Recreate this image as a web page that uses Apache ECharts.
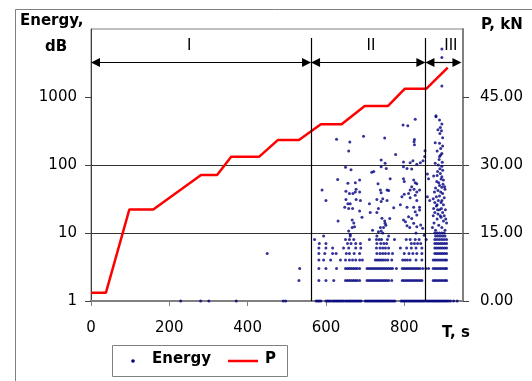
<!DOCTYPE html>
<html>
<head>
<meta charset="utf-8">
<script src="https://cdn.jsdelivr.net/npm/echarts@6/dist/echarts.min.js"></script>
<style>
  html, body { margin: 0; padding: 0; background: #fff; }
  #chart { width: 532px; height: 381px; }
</style>
</head>
<body>
<div id="chart"></div>
<script>
// axis ticks
const timeTicks = [0, 200, 400, 600, 800];
const energyTicks = [1, 10, 100, 1000];
const loadTicks = [0, 15, 30, 45];

// loading curve P (kN) vs time (s)
const pTime = [0, 38, 98, 159, 281, 322, 358, 429, 477, 531, 587, 640, 699, 758, 801, 856, 911];
const pLoad = [1.8, 1.8, 20.2, 20.2, 27.8, 27.8, 31.8, 31.8, 35.5, 35.5, 39, 39, 43, 43, 46.8, 46.8, 51.5];

// stages
const stageBounds = [0, 562, 854, 946];
const stageNames = ['I', 'II', 'III'];
const stageLabelT = [251, 715, 919];

// acoustic emission hits: time stamps per integer energy level
const energyRow1 = [229, 280, 301, 371, 491, 497, 575, 579, 583, 587, 600, 604, 608, 612, 617, 621, 625, 629, 633, 637,
  641, 645, 650, 654, 658, 662, 666, 670, 674, 678, 682, 686, 690, 700, 704, 708, 712, 716, 720, 724, 728, 732, 736,
  740, 744, 748, 752, 756, 760, 764, 768, 772, 776, 792, 796, 800, 804, 808, 812, 816, 820, 824, 828, 832, 836, 840,
  844, 848, 852, 857, 861, 865, 869, 873, 877, 881, 885, 889, 893, 897, 901, 905, 909, 913, 918, 926, 935];
const energyRow2 = [531, 582, 600, 620, 650, 655, 660, 665, 670, 675, 680, 686, 705, 710, 715, 720, 725, 730, 735, 740,
  745, 750, 755, 760, 768, 795, 800, 805, 810, 815, 820, 825, 830, 835, 840, 845, 874, 879, 884, 889, 894, 899, 904, 908];
const energyRow3 = [533, 582, 600, 627, 650, 655, 660, 665, 670, 675, 680, 686, 705, 710, 715, 720, 725, 730, 735, 740,
  745, 750, 755, 760, 765, 770, 780, 795, 800, 805, 810, 815, 820, 825, 830, 835, 840, 847, 855, 862, 874, 879, 884,
  889, 894, 899, 904, 908];
const energyRow4 = [582, 594, 612, 637, 650, 660, 668, 676, 686, 693, 726, 731, 736, 741, 746, 752, 758, 768, 796, 802,
  808, 815, 830, 845, 874, 879, 884, 889, 894, 899, 904, 908];
const energyRow5 = [450, 582, 597, 617, 626, 652, 660, 672, 686, 730, 738, 745, 752, 760, 770, 800, 812, 822, 832, 845,
  878, 883, 888, 893, 898, 903, 908];
const energyRow6 = [582, 600, 617, 645, 658, 676, 689, 729, 738, 745, 752, 760, 790, 806, 818, 830, 845, 878, 883, 888,
  893, 898, 903, 908];
const energyRow7 = [583, 600, 655, 664, 676, 688, 730, 740, 748, 755, 818, 826, 834, 842, 878, 883, 888, 893, 898, 903, 908];
const energyRow8 = [571, 650, 660, 671, 711, 729, 736, 742, 757, 775, 805, 815, 828, 838, 856, 878, 884, 890, 896, 902, 908];
const energyRow9 = [594, 662, 730, 760, 880, 886, 892, 898, 904];
const energyRow10 = [745, 830, 878, 884, 890, 896, 902];

// higher-energy hits [time, energy]
const energyScatter = [
  [627, 239], [661, 218], [658, 161], [696, 264], [750, 250], [650, 93], [664, 85], [741, 118], [751, 106], [722, 80],
  [717, 78], [741, 94], [630, 61], [686, 60], [675, 55], [656, 54], [590, 43], [651, 41], [677, 44], [675, 40],
  [660, 38], [669, 38], [686, 40], [733, 53], [739, 43], [741, 39], [600, 30], [651, 31], [656, 27], [662, 27],
  [677, 31], [688, 30], [711, 27], [730, 31], [741, 29], [745, 32], [756, 30], [648, 24], [658, 23], [668, 23],
  [828, 470], [797, 386], [809, 378], [881, 512], [890, 458], [896, 400], [892, 355], [898, 252], [890, 208], [879, 212],
  [826, 238], [825, 220], [826, 199], [778, 143], [893, 175], [896, 148], [890, 133], [853, 162], [852, 133], [848, 115],
  [841, 108], [879, 106], [887, 100], [896, 96], [898, 84], [798, 111], [815, 108], [822, 115], [832, 103], [798, 94],
  [807, 89], [819, 87], [754, 89], [764, 63], [798, 63], [800, 57], [824, 60], [828, 55], [832, 53], [819, 48],
  [815, 43], [811, 38], [825, 44], [832, 40], [839, 43], [859, 74], [862, 63], [875, 69], [885, 80], [892, 75],
  [896, 67], [900, 60], [883, 57], [890, 50], [896, 47], [893, 40], [904, 44], [756, 43], [760, 42], [794, 34],
  [800, 37], [815, 33], [828, 36], [832, 30], [859, 34], [865, 30], [882, 34], [887, 30], [896, 30], [900, 26],
  [790, 26], [807, 24], [824, 24], [839, 24], [875, 23], [885, 22], [895, 23], [905, 22],
  [686, 21], [713, 20], [730, 20], [734, 23], [631, 15], [667, 15.5], [671, 14], [692, 17], [743, 16.5], [750, 15],
  [753, 13], [747, 12], [739, 12], [719, 11], [734, 10.4], [741, 10.7], [658, 10.7], [667, 12], [673, 12.4], [662, 9.5],
  [763, 16.4], [751, 13.9], [773, 23.5], [798, 15.5], [803, 14.6], [811, 17.4], [819, 16.4], [828, 20.5], [832, 18.4],
  [839, 21.8], [824, 13.9], [814, 12], [832, 12.4], [842, 13.1], [847, 11.7], [807, 12.8], [851, 9.3],
  [872, 12], [876, 14], [880, 11], [884, 16], [888, 13], [892, 18], [896, 12], [900, 15], [904, 11], [908, 14],
  [874, 18], [878, 20], [882, 25], [886, 19], [890, 22], [894, 17], [898, 20], [902, 18], [906, 16], [878, 28],
  [884, 26], [890, 35], [894, 28], [898, 38], [902, 33], [886, 42], [880, 46], [888, 55], [894, 62], [899, 52],
  [877, 40], [874, 32], [903, 48], [891, 88], [884, 70], [897, 110], [889, 120], [893, 140], [884, 160], [898, 190],
  [891, 290], [895, 320], [886, 330], [896, 5100], [896, 3800], [896, 1450], [881, 530]
];

const energyRows = [energyRow1, energyRow2, energyRow3, energyRow4, energyRow5,
  energyRow6, energyRow7, energyRow8, energyRow9, energyRow10];
const energyData = energyRows
  .flatMap((row, i) => row.map((t) => [t, i + 1]))
  .concat(energyScatter);
const loadData = pTime.map((t, i) => [t, pLoad[i]]);

const FONT = 'DejaVu Sans';
const NAVY = '#000080';
const arrowY = 3215;
const stageTop = 58;
// arrow heads are centred on the line end, pull them in so the tip touches the bound
const arrowInset = 11.5;

const chart = echarts.init(document.getElementById('chart'), null, { renderer: 'canvas' });

chart.setOption({
  animation: false,
  backgroundColor: '#fff',
  textStyle: { fontFamily: FONT },
  grid: {
    left: 91, right: 69, top: 29, bottom: 80,
    show: true, borderColor: '#808080', borderWidth: 1, backgroundColor: 'transparent'
  },
  xAxis: {
    type: 'value', min: 0, max: 950, interval: 200,
    axisLine: { show: true, onZero: false, lineStyle: { color: '#808080', width: 2 } },
    axisTick: { show: true, length: 5, customValues: timeTicks, lineStyle: { color: '#808080' } },
    axisLabel: { customValues: timeTicks, color: '#000', fontSize: 15, fontFamily: FONT, margin: 20 },
    splitLine: { show: false }
  },
  yAxis: [
    {
      type: 'log', logBase: 10, min: 1, max: 10000,
      axisLine: { show: true, lineStyle: { color: '#404040', width: 1 } },
      axisTick: { show: true, length: 6, customValues: energyTicks, lineStyle: { color: '#404040' } },
      axisLabel: {
        customValues: energyTicks, color: '#000', fontSize: 15, fontFamily: FONT, margin: 14,
        formatter: (v) => String(Math.round(v))
      },
      splitLine: { show: true, showMinLine: false, showMaxLine: false, lineStyle: { color: '#333', width: 1 } }
    },
    {
      type: 'value', min: 0, max: 60, interval: 15, position: 'right',
      axisLine: { show: true, lineStyle: { color: '#808080', width: 2 } },
      axisTick: { show: true, length: 6, customValues: loadTicks, lineStyle: { color: '#404040' } },
      axisLabel: {
        customValues: loadTicks, color: '#000', fontSize: 15, fontFamily: FONT, margin: 17,
        formatter: (v) => v.toFixed(2)
      },
      splitLine: { show: false }
    }
  ],
  series: [
    {
      name: 'Energy',
      type: 'scatter',
      yAxisIndex: 0,
      symbol: 'circle',
      symbolSize: 3,
      itemStyle: { color: NAVY },
      data: energyData,
      markLine: {
        silent: true,
        symbol: ['triangle', 'triangle'],
        symbolSize: 9,
        label: { show: false },
        lineStyle: { color: '#000', width: 1.2, type: 'solid' },
        data: stageNames.map((_, i) => [
          { coord: [stageBounds[i] + arrowInset, arrowY] },
          { coord: [stageBounds[i + 1] - arrowInset, arrowY] }
        ])
      },
      markPoint: {
        silent: true,
        symbol: 'circle',
        symbolSize: 0,
        label: { show: true, position: 'inside', color: '#000', fontSize: 15, fontFamily: FONT, formatter: (p) => p.name },
        data: stageNames.map((name, i) => ({ name, coord: [stageLabelT[i], 5620] }))
      }
    },
    {
      name: 'P',
      type: 'line',
      yAxisIndex: 1,
      symbol: 'none',
      lineStyle: { color: '#ff0000', width: 2.5 },
      data: loadData,
      z: 3,
      markLine: {
        silent: true,
        symbol: 'none',
        label: { show: false },
        lineStyle: { color: '#000', width: 1.2, type: 'solid' },
        data: [1, 2].map((i) => [
          { coord: [stageBounds[i], 0] },
          { coord: [stageBounds[i], stageTop] }
        ])
      }
    }
  ],
  graphic: [
    { type: 'rect', left: 13, top: 7, shape: { width: 540, height: 400 }, style: { fill: 'none', stroke: '#808080', lineWidth: 1 }, z: -10 },
    { type: 'text', left: 20, top: 14, style: { text: 'Energy,', font: `bold 15px "${FONT}"`, fill: '#000' } },
    { type: 'text', left: 45, top: 40, style: { text: 'dB', font: `bold 15px "${FONT}"`, fill: '#000' } },
    { type: 'text', left: 481, top: 18, style: { text: 'P, kN', font: `bold 15px "${FONT}"`, fill: '#000' } },
    { type: 'text', left: 442, top: 326, style: { text: 'T, s', font: `bold 15px "${FONT}"`, fill: '#000' } },
    { type: 'rect', left: 112, top: 345, shape: { width: 175, height: 31 }, style: { fill: '#fff', stroke: '#808080', lineWidth: 1 } },
    { type: 'circle', shape: { cx: 133, cy: 361, r: 1.8 }, style: { fill: NAVY } },
    { type: 'text', left: 152, top: 352, style: { text: 'Energy', font: `bold 15px "${FONT}"`, fill: '#000' } },
    { type: 'line', shape: { x1: 228, y1: 361, x2: 258, y2: 361 }, style: { stroke: '#ff0000', lineWidth: 2.5 } },
    { type: 'text', left: 265, top: 352, style: { text: 'P', font: `bold 15px "${FONT}"`, fill: '#000' } }
  ]
});
</script>
</body>
</html>
